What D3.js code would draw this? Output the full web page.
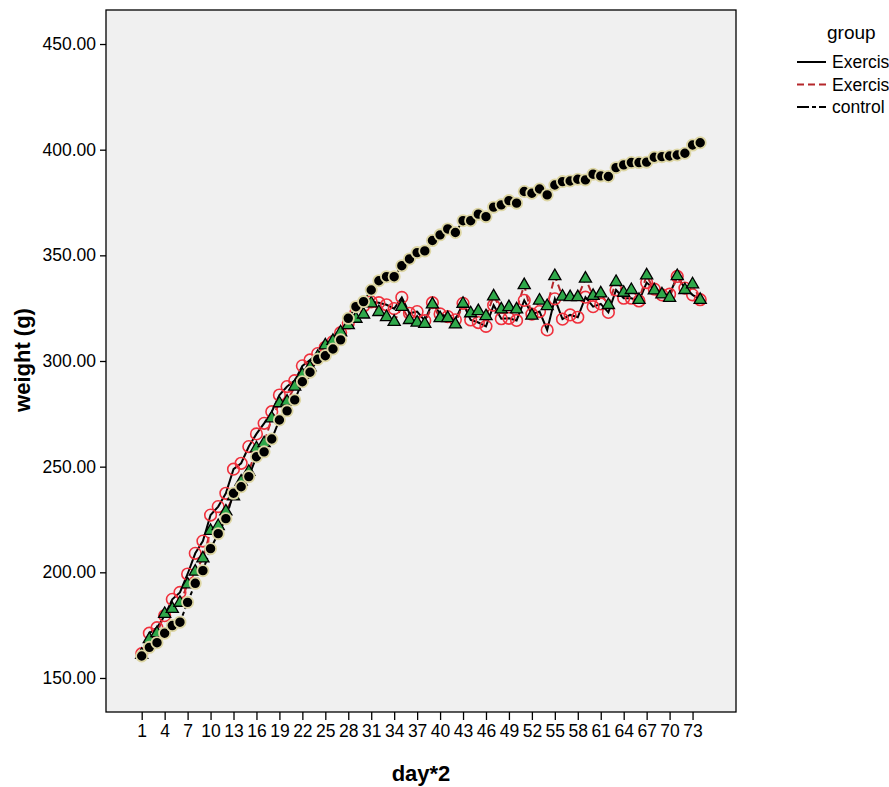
<!DOCTYPE html>
<html><head><meta charset="utf-8">
<script src="https://cdn.jsdelivr.net/npm/d3@7"></script>
<style>body{margin:0;background:#fff}svg text{font-family:"Liberation Sans",Arial,sans-serif}</style>
</head><body><svg id="c" width="889" height="787"></svg>
<script>
const days = d3.range(1, 75);
const tickLabels = d3.range(1, 74, 3);
const yTicks = [150, 200, 250, 300, 350, 400, 450];
const groups = ["Exercise 1", "Exercise 2", "control"];
const exercise1 = [161.5,171.2,173.8,179.5,187.2,190.5,199.2,209.0,214.8,227.1,231.1,237.4,248.8,251.6,259.5,265.5,270.5,276.0,283.9,287.9,290.7,297.7,300.5,303.5,306.5,309.2,313.4,318.0,323.0,326.0,328.0,327.6,326.6,324.8,330.1,322.6,323.4,319.1,327.6,322.3,321.0,319.5,327.3,319.4,318.2,316.4,326.4,320.0,320.2,319.2,328.7,322.2,323.4,314.7,329.4,319.8,321.8,320.7,330.2,325.7,327.0,323.0,333.6,329.7,329.7,328.4,337.1,334.0,331.3,331.6,340.0,334.5,331.3,329.0];
const exercise2 = [161.0,168.4,171.2,180.3,182.7,185.6,194.3,200.3,206.6,219.6,221.9,228.8,236.0,242.9,247.6,258.7,261.1,272.9,280.0,280.8,287.9,293.5,297.0,302.0,307.4,309.5,313.6,317.0,320.0,322.0,327.3,323.2,320.8,318.5,325.6,319.4,318.2,317.6,326.8,320.3,320.3,317.3,327.1,322.6,323.6,321.2,330.6,324.4,325.5,324.4,335.9,321.5,328.6,326.0,340.2,330.5,330.2,330.2,339.0,330.8,332.0,326.5,337.4,332.3,333.6,328.9,340.5,333.4,331.5,329.9,340.2,333.6,336.3,328.9];
const control = [160.4,164.5,166.7,171.2,174.8,176.4,185.8,194.8,200.8,211.2,218.3,225.4,237.4,240.5,245.3,254.7,257.0,263.1,272.1,276.4,281.6,290.2,294.7,300.8,302.5,305.7,310.0,320.2,325.7,328.1,333.6,338.0,339.9,339.9,345.1,348.3,351.3,352.1,357.0,359.7,362.5,360.8,366.4,366.4,369.5,368.3,372.8,373.9,375.9,374.7,380.2,379.4,381.4,378.6,383.3,384.9,385.2,386.0,385.7,388.4,387.6,387.3,391.5,392.8,393.9,393.9,394.1,396.4,396.7,397.0,397.5,398.3,402.2,403.3];

const svg = d3.select("#c");
const frame = {x0: 106, x1: 736, y0: 10, y1: 712};
const x = d3.scalePoint().domain(days).range([frame.x0 + 35.7, frame.x1 - 35.8]);
const y = d3.scaleLinear().domain([133.9, 466.1]).range([frame.y1, frame.y0]);

svg.append("rect").attr("x", frame.x0).attr("y", frame.y0)
  .attr("width", frame.x1 - frame.x0).attr("height", frame.y1 - frame.y0)
  .attr("fill", "#f0f0f0").attr("stroke", "#000").attr("stroke-width", 1.3);

const yAxis = svg.append("g").attr("transform", `translate(${frame.x0},0)`)
  .call(d3.axisLeft(y).tickValues(yTicks).tickFormat(d3.format(".2f")).tickSize(6).tickSizeOuter(0));
yAxis.select(".domain").remove();
yAxis.selectAll("text").attr("font-size", 17.5).attr("x", -10).attr("fill", "#000").attr("font-family", "Liberation Sans, Arial, sans-serif");
yAxis.selectAll("line").attr("stroke", "#000").attr("stroke-width", 1.3);

const xAxis = svg.append("g").attr("transform", `translate(0,${frame.y1})`)
  .call(d3.axisBottom(x).tickValues(tickLabels).tickSize(8).tickSizeOuter(0));
xAxis.select(".domain").remove();
xAxis.selectAll("text").attr("font-size", 17.5).attr("y", 13).attr("fill", "#000")
  .attr("font-family", "Liberation Sans Narrow, Liberation Sans, Arial, sans-serif");
xAxis.selectAll("line").attr("stroke", "#000").attr("stroke-width", 1.3);

svg.append("text").attr("x", 421).attr("y", 781).attr("text-anchor", "middle")
  .attr("font-size", 22).attr("font-weight", "bold").text("day*2");
svg.append("text").attr("transform", "translate(30,360) rotate(-90)").attr("text-anchor", "middle")
  .attr("font-size", 22).attr("font-weight", "bold").text("weight (g)");

const line = d3.line().x((d, i) => x(days[i])).y(d => y(d));
const styles = [
  {data: exercise1, stroke: "#000", dash: null},
  {data: exercise2, stroke: "#b5272b", dash: "7,4"},
  {data: control, stroke: "#000", dash: "12,3,4,3"}
];
styles.forEach(s => {
  svg.append("path").datum(s.data).attr("d", line).attr("fill", "none")
    .attr("stroke", s.stroke).attr("stroke-width", 2).attr("stroke-dasharray", s.dash);
});

svg.append("g").selectAll("circle").data(exercise1).join("circle")
  .attr("cx", (d, i) => x(days[i])).attr("cy", d => y(d)).attr("r", 5.8)
  .attr("fill", "none").attr("stroke", "#f0303c").attr("stroke-width", 1.6);
const tri = d3.symbol().type(d3.symbolTriangle).size(64);
svg.append("g").selectAll("path").data(exercise2).join("path")
  .attr("d", tri).attr("transform", (d, i) => `translate(${x(days[i])},${y(d)})`)
  .attr("fill", "#2fa84a").attr("stroke", "#000").attr("stroke-width", 1.3);
svg.append("g").selectAll("circle").data(control).join("circle")
  .attr("cx", (d, i) => x(days[i])).attr("cy", d => y(d)).attr("r", 5.6)
  .attr("fill", "#000").attr("stroke", "#ddd6a4").attr("stroke-width", 1.8);

const lg = svg.append("g");
lg.append("text").attr("x", 827).attr("y", 39).attr("font-size", 19).text("group");
groups.forEach((g, i) => {
  const yy = 62 + i * 22.5;
  const s = styles[i];
  lg.append("line").attr("x1", 797).attr("x2", 826).attr("y1", yy).attr("y2", yy)
    .attr("stroke", s.stroke).attr("stroke-width", 2).attr("stroke-dasharray", s.dash);
  lg.append("text").attr("x", 832).attr("y", yy + 6).attr("font-size", 17.5).text(g);
});
</script></body></html>
